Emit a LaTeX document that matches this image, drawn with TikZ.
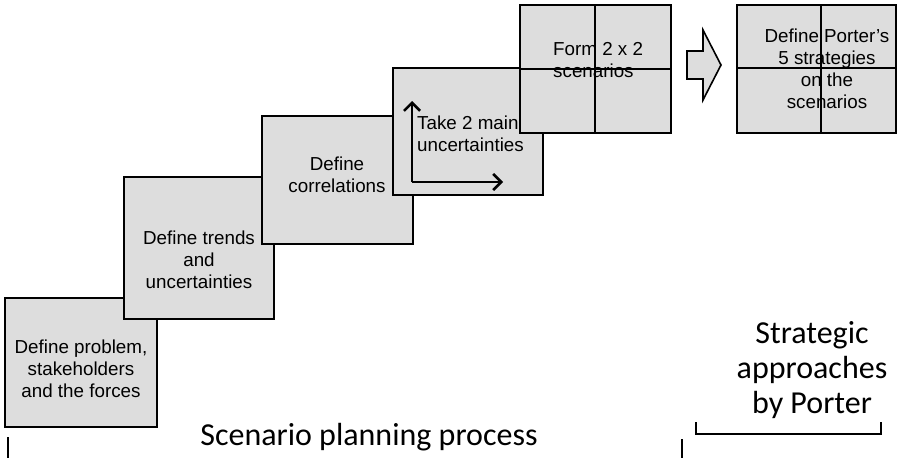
\documentclass[tikz,border=0pt]{standalone}
\usepackage{fontspec}
\setmainfont{Liberation Sans}
\newfontfamily\capfont{Carlito}
\usetikzlibrary{arrows.meta}
\definecolor{boxgray}{HTML}{DDDDDD}
\tikzset{
  x=1pt, y=-1pt,
  stepbox/.style={draw=black, line width=1.8pt, fill=boxgray, inner sep=0pt},
  steptext/.style={font=\fontsize{18.8}{22}\selectfont, align=center, inner sep=0pt},
  lefttext/.style={font=\fontsize{18.8}{22}\selectfont, align=left, inner sep=0pt, anchor=north west},
  divider/.style={line width=1.1pt},
  axis/.style={line width=2.6pt, -{Straight Barb[length=8pt,width=16pt]}},
  caption/.style={font=\capfont\fontsize{32}{35}\selectfont, align=center, inner sep=0pt},
  bracket/.style={line width=2pt}
}
\begin{document}
\begin{tikzpicture}
\useasboundingbox (0,0) rectangle (898,458);

% staircase of process steps, each drawn over the previous one
\draw[stepbox] (5,298) rectangle (157,427);
\node[steptext] (t1) at (81,369) {Define problem,\\stakeholders\\and the forces};

\draw[stepbox] (124,177) rectangle (274,319);
\node[steptext] (t2) at (199,260) {Define trends\\and\\uncertainties};

\draw[stepbox] (262,116) rectangle (413,244);
\node[steptext] (t3) at (337,175) {Define\\correlations};

\draw[stepbox] (393,68) rectangle (543,195);
\coordinate (o) at (412,182);
\coordinate (yend) at (412,101);
\coordinate (xend) at (503,182);
\draw[axis] (o) -- (yend);
\draw[axis] (o) -- (xend);
\node[lefttext] (t4) at (417,116) {Take 2 main\\uncertainties};

% 2 x 2 scenario grid
\draw[stepbox] (520,5) rectangle (671,133);
\node[lefttext] (t5) at (553,42) {Form 2 x 2\\scenarios};
\draw[divider] (595,5) -- (595,133);
\draw[divider] (520,69) -- (671,69);

% transition arrow
\draw[line width=1.6pt, fill=boxgray, line join=miter]
  (687,51) -- (703,51) -- (703,30) -- (721,65) -- (703,100) -- (703,79) -- (687,79) -- cycle;

% Porter strategies grid
\draw[stepbox] (737,5) rectangle (896,133);
\node[steptext] (t6) at (827,69) {Define Porter’s\\5 strategies\\on the\\scenarios};
\draw[divider] (821,5) -- (821,133);
\draw[divider] (737,68) -- (896,68);

% captions and brackets
\node[caption] (cap1) at (369,437) {Scenario planning process};
\node[caption] (cap2) at (812,370) {Strategic\\approaches\\by Porter};

\coordinate (la) at (8,437);
\coordinate (lb) at (8,458);
\draw[bracket] (la) -- (lb);
\coordinate (ra) at (682,439);
\coordinate (rb) at (682,458);
\draw[bracket] (ra) -- (rb);
\coordinate (b1) at (696,422);
\coordinate (b2) at (696,434);
\coordinate (b3) at (881,434);
\coordinate (b4) at (881,422);
\draw[bracket] (b1) -- (b2) -- (b3) -- (b4);
\end{tikzpicture}
\end{document}
